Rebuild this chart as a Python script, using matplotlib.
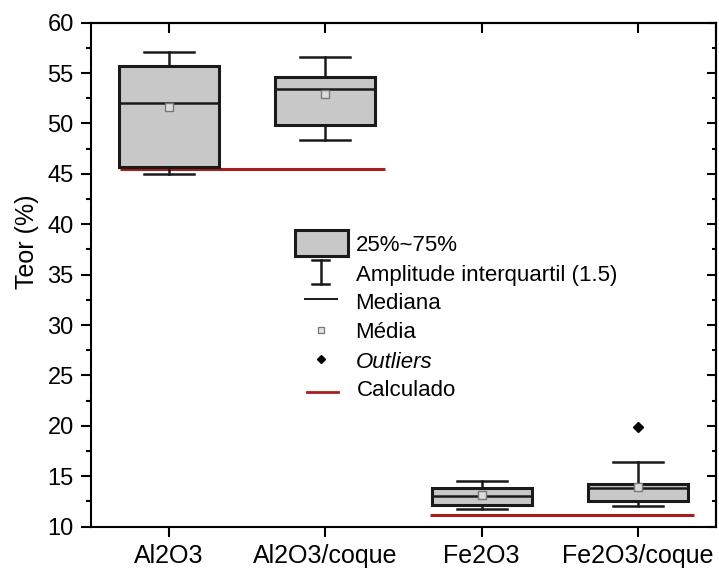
import numpy as np
import matplotlib.pyplot as plt
from matplotlib.patches import Rectangle
from matplotlib.lines import Line2D
from matplotlib.ticker import MultipleLocator

plt.rcParams['font.family'] = ['Liberation Sans', 'DejaVu Sans']

# estatisticas dos teores (%) por amostra
amostras = ['Al2O3', 'Al2O3/coque', 'Fe2O3', 'Fe2O3/coque']
q1 = [45.71, 49.88, 12.15, 12.55]
mediana = [52.06, 53.39, 13.08, 13.81]
q3 = [55.70, 54.58, 13.87, 14.24]
whis_lo = [44.96, 48.36, 11.75, 12.05]
whis_hi = [57.12, 56.63, 14.56, 16.45]
media = [51.67, 52.90, 13.14, 13.97]
outliers = [[], [], [], [19.86]]

# teor calculado (linha vermelha) e faixa em x que cobre
calc_valor = [45.45, 11.13]
calc_x = [[0.69, 2.38], [2.67, 4.36]]

leg_labels = ['25%~75%', 'Amplitude interquartil (1.5)', 'Mediana', 'Média',
              'Outliers', 'Calculado']

cinza = '#c8c8c8'
vermelho = '#a81e1e'

fig = plt.figure(figsize=(7.19, 5.70), dpi=100)
ax = fig.add_axes([0.1262, 0.0760, 0.8697, 0.8842])

stats = []
for i in range(len(amostras)):
    stats.append(dict(label=amostras[i], q1=q1[i], med=mediana[i], q3=q3[i],
                      whislo=whis_lo[i], whishi=whis_hi[i], mean=media[i],
                      fliers=np.array(outliers[i])))

ax.bxp(stats, positions=[1, 2, 3, 4], widths=0.64, patch_artist=True,
       showmeans=True,
       boxprops=dict(facecolor=cinza, edgecolor='#1a1a1a', linewidth=2.2),
       whiskerprops=dict(color='#1a1a1a', linewidth=1.8),
       capprops=dict(color='#1a1a1a', linewidth=1.8),
       medianprops=dict(color='#1a1a1a', linewidth=1.8),
       meanprops=dict(marker='s', markersize=5.5, markerfacecolor='#dcdcdc',
                      markeredgecolor='#777777', markeredgewidth=1),
       flierprops=dict(marker='D', markersize=5.5, markerfacecolor='black',
                       markeredgecolor='black'))

for xs, v in zip(calc_x, calc_valor):
    ax.plot(xs, [v, v], color=vermelho, lw=2.2, solid_capstyle='butt', zorder=1.5)

ax.set_xlim(0.5, 4.5)
ax.set_ylim(10, 60)
ax.set_xticks([1, 2, 3, 4])
ax.set_xticklabels(amostras, fontsize=18)
ax.yaxis.set_major_locator(MultipleLocator(5))
ax.yaxis.set_minor_locator(MultipleLocator(2.5))
ax.tick_params(axis='y', which='major', direction='out', length=7.2, width=1.5,
               labelsize=17, pad=5)
ax.tick_params(axis='y', which='minor', direction='out', length=3.6, width=1.5)
ax.tick_params(axis='x', which='major', direction='out', length=7.2, width=1.5, pad=5)
ax.set_ylabel('Teor (%)', fontsize=18)
ax.yaxis.set_label_coords(-0.082, 0.565)
for s in ax.spines.values():
    s.set_linewidth(1.5)

# ticks internos no topo e na direita
topo = ax.secondary_xaxis('top')
topo.set_xticks([1, 2, 3, 4])
topo.tick_params(direction='in', length=7, width=1.5, labeltop=False)
topo.spines['top'].set_linewidth(1.5)
direita = ax.secondary_yaxis('right')
direita.yaxis.set_major_locator(MultipleLocator(5))
direita.yaxis.set_minor_locator(MultipleLocator(2.5))
direita.tick_params(which='major', direction='in', length=6.7, width=1.5, labelright=False)
direita.tick_params(which='minor', direction='in', length=3.2, width=1.5)
direita.spines['right'].set_linewidth(1.5)

# legenda desenhada a mao (coordenadas de eixo)
tr = ax.transAxes
ax.add_patch(Rectangle((0.3267, 0.5377), 0.0843, 0.051, transform=tr,
                       facecolor=cinza, edgecolor='#1a1a1a', lw=2.2, zorder=5))
xc = 0.3679
ax.add_line(Line2D([xc, xc], [0.4815, 0.5292], transform=tr, color='#1a1a1a', lw=1.8))
ax.add_line(Line2D([xc - 0.0139, xc + 0.0139], [0.5292, 0.5292], transform=tr,
                   color='#1a1a1a', lw=1.8))
ax.add_line(Line2D([xc - 0.0139, xc + 0.0139], [0.4815, 0.4815], transform=tr,
                   color='#1a1a1a', lw=1.8))
ax.add_line(Line2D([0.3427, 0.3944], [0.4512, 0.4512], transform=tr, color='#1a1a1a', lw=1.4))
ax.add_line(Line2D([xc], [0.3903], transform=tr, marker='s', markersize=4,
                   markerfacecolor='#e4e4e4', markeredgecolor='#777777', markeredgewidth=0.9))
ax.add_line(Line2D([xc], [0.3321], transform=tr, marker='D', markersize=4.5,
                   color='black'))
ax.add_line(Line2D([0.3459, 0.395], [0.2667, 0.2667], transform=tr, color=vermelho, lw=2))

bases = [0.5476, 0.4881, 0.4313, 0.3738, 0.3143, 0.2599]
for lab, yb in zip(leg_labels, bases):
    estilo = 'italic' if lab == 'Outliers' else 'normal'
    xt = 0.4264 if lab == 'Calculado' else 0.4235
    ax.text(xt, yb, lab, transform=tr, fontsize=16, va='baseline', ha='left',
            style=estilo)

fig.savefig('out.png', dpi=100)
